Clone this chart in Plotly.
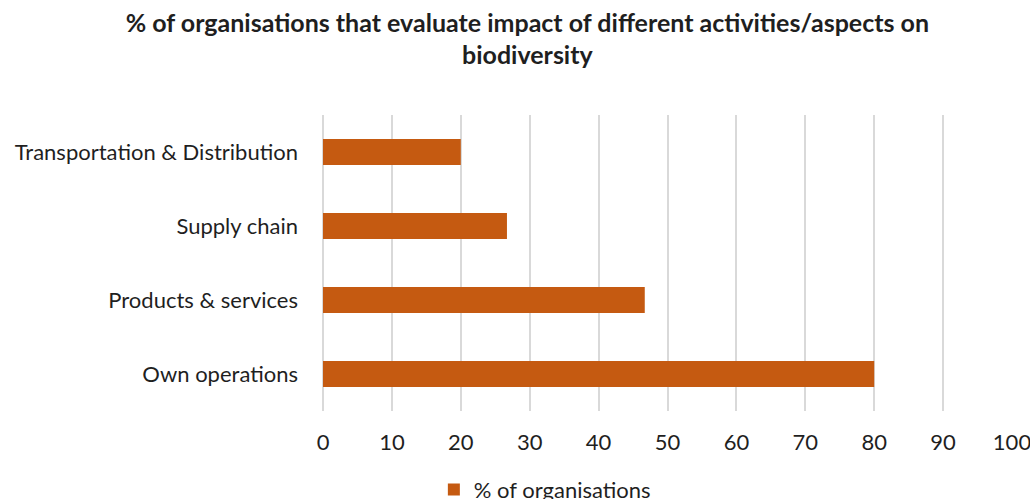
import plotly.graph_objects as go

categories = ["Own operations", "Products & services", "Supply chain", "Transportation & Distribution"]
values = [80, 46.7, 26.7, 20]
series_name = "% of organisations"
title_text = "% of organisations that evaluate impact of different activities/aspects on<br>biodiversity"
tick_vals = [0, 10, 20, 30, 40, 50, 60, 70, 80, 90, 100]

FONT = "Lato"
TXT = "#1f1f1f"

fig = go.Figure()
fig.add_trace(go.Bar(
    y=categories, x=values, orientation="h", name=series_name,
    marker=dict(color="#C55A11", line=dict(width=0)), width=0.35,
    showlegend=True,
))

fig.update_layout(
    width=1030, height=499,
    paper_bgcolor="white", plot_bgcolor="white",
    margin=dict(l=323, r=18, t=115, b=88, autoexpand=False),
    font=dict(family=FONT, color=TXT, size=22),
    title=dict(text="<b>" + title_text + "</b>", x=0.512, xanchor="center",
               y=1 - 31.5 / 499, yanchor="top", font=dict(family=FONT, size=25, color=TXT)),
    xaxis=dict(range=[0, 100], tickvals=tick_vals, showgrid=True, automargin=False,
               gridcolor="#D9D9D9", gridwidth=2, zeroline=True, zerolinecolor="#D9D9D9",
               zerolinewidth=2, showline=False, ticks="", ticklabelstandoff=16,
               ticklabeloverflow="allow",
               tickfont=dict(size=22, color=TXT)),
    yaxis=dict(showgrid=False, ticks="", showline=False, ticklabelstandoff=24, automargin=False,
               tickfont=dict(size=22, color=TXT)),
    legend=dict(orientation="h", x=0.322, xanchor="center", y=-0.195, yanchor="top",
                font=dict(size=22, color=TXT), itemwidth=30),
)

fig.write_html(
    "out.html",
    config={"displayModeBar": False},
    post_script="document.body.style.margin='0';document.body.style.overflow='hidden';",
)
